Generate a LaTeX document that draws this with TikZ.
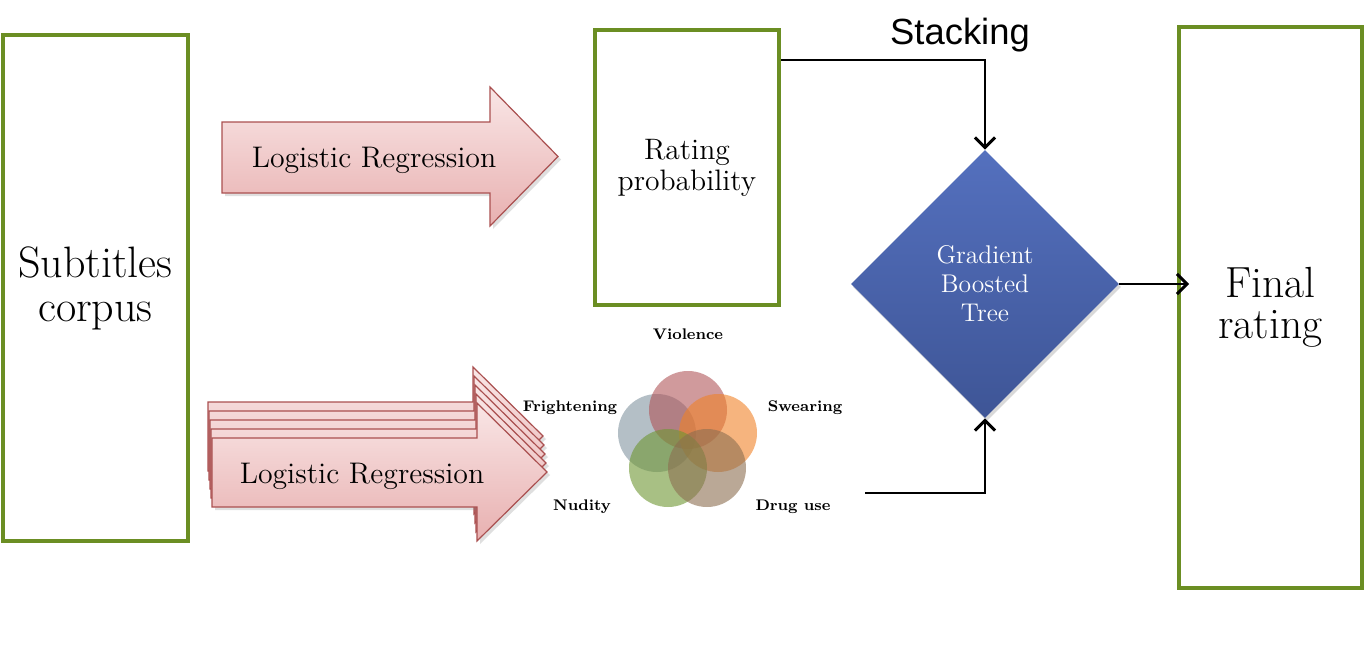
\documentclass[tikz,border=0pt]{standalone}
\usepackage{fontspec}
\newfontfamily\arialfont{Liberation Sans}
\usetikzlibrary{shapes.geometric,arrows.meta,shadows}
\definecolor{boxgreen}{RGB}{107,142,35}
\definecolor{arrowedge}{RGB}{170,80,80}
\definecolor{pinktop}{RGB}{249,230,230}
\definecolor{pinkbot}{RGB}{232,176,176}
\definecolor{gbttop}{RGB}{84,112,190}
\definecolor{gbtbot}{RGB}{62,85,150}
\definecolor{cviol}{RGB}{176,86,90}
\definecolor{cswear}{RGB}{240,130,40}
\definecolor{cfright}{RGB}{130,148,160}
\definecolor{cnude}{RGB}{110,150,50}
\definecolor{cdrug}{RGB}{140,110,80}
\tikzset{
  greenbox/.style={draw=boxgreen, line width=2pt, fill=white, inner sep=0pt},
  bigarrow/.style={draw=arrowedge, line width=0.6pt, top color=pinktop, bottom color=pinkbot,
    drop shadow={shadow xshift=1.5pt, shadow yshift=-1.5pt, opacity=0.25}},
  conn/.style={line width=0.75pt, -{Straight Barb[length=5pt,width=10pt,line width=1.5pt]}},
  venncirc/.style={circle, minimum size=39pt, inner sep=0pt, fill opacity=0.6},
  vennlabel/.style={font=\fontsize{7.7}{9}\selectfont\bfseries},
  lrtext/.style={font=\fontsize{14.9}{16}\selectfont},
}
\begin{document}
\begin{tikzpicture}[x=0.5pt,y=-0.5pt]
\useasboundingbox (0,0) rectangle (1366,664);

% boxes
\node[greenbox, minimum width=92.5pt, minimum height=253pt, align=center,
  font=\fontsize{22}{22}\selectfont] (corpus) at (95.5,288) {Subtitles\\corpus};
\node[greenbox, minimum width=92pt, minimum height=137.5pt, align=center,
  font=\fontsize{14.8}{15.5}\selectfont] (rate) at (687,167.5) {Rating\\probability};
\node[greenbox, minimum width=91.5pt, minimum height=280.5pt, align=center,
  font=\fontsize{21.8}{20.5}\selectfont] (final) at (1270.5,307.5) {Final\\rating};

% top arrow
\path[bigarrow] (222,122) -- (490,122) -- (490,87) -- (558,156.5) -- (490,226) -- (490,193) -- (222,193) -- cycle;
\node[lrtext] (lr1) at (374,160) {Logistic Regression};

% stacked arrows
\foreach \k in {4,3,2,1,0}{
  \path[bigarrow, shift={(-1*\k,-9*\k)}] (212,438) -- (477,438) -- (477,403) -- (547,472) -- (477,541) -- (477,507) -- (212,507) -- cycle;
}
\node[lrtext] (lr2) at (362,476) {Logistic Regression};

% venn
\node[venncirc, fill=cfright] (cf) at (657,433) {};
\node[venncirc, fill=cviol] (cv) at (688,410) {};
\node[venncirc, fill=cswear] (cs) at (718,433) {};
\node[venncirc, fill=cnude] (cn) at (668,468) {};
\node[venncirc, fill=cdrug] (cd) at (707,468) {};
\node[vennlabel] (lv) at (688,334) {Violence};
\node[vennlabel] (lf) at (570,408) {Frightening};
\node[vennlabel] (ls) at (805,408) {Swearing};
\node[vennlabel] (ln) at (582,507) {Nudity};
\node[vennlabel] (ld) at (793,507) {Drug use};

% diamond
\node[diamond, aspect=1, minimum width=134pt, minimum height=134pt, inner sep=0pt,
  top color=gbttop, bottom color=gbtbot, draw=none, text=white, align=center,
  font=\fontsize{12.8}{14.5}\selectfont,
  drop shadow={shadow xshift=1pt, shadow yshift=-1.5pt, opacity=0.3}] (gbt) at (985,284) {Gradient\\Boosted\\Tree};

% stacking label
\node[font=\arialfont\fontsize{18.2}{20}\selectfont] (stk) at (960,35) {Stacking};

% connectors
\coordinate (vennout) at (865,493);
\draw[conn] ([yshift=-16pt]rate.north east) -| (gbt.north);
\draw[conn] (vennout) -| (gbt.south);
\draw[conn] (gbt.east) -- ([xshift=6pt]final.west |- gbt.east);
\end{tikzpicture}
\end{document}
